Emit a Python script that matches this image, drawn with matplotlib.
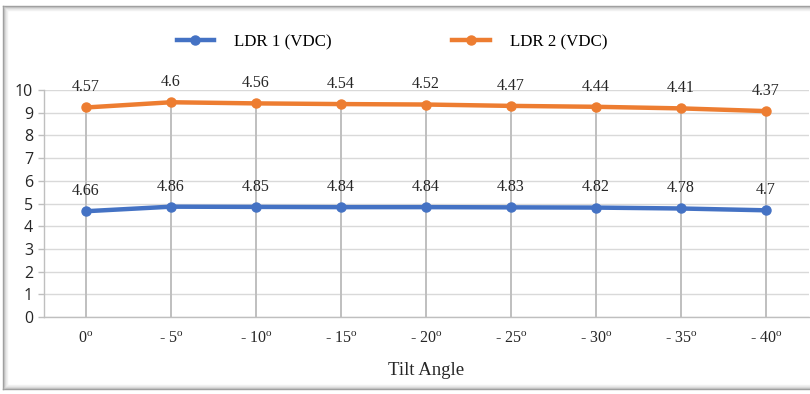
import matplotlib
matplotlib.use("Agg")
import matplotlib.pyplot as plt
from matplotlib.lines import Line2D
import numpy as np

# Tilt angle categories and voltage readings
angles = ["0", "- 5", "- 10", "- 15", "- 20", "- 25", "- 30", "- 35", "- 40"]
ldr1 = [4.66, 4.86, 4.85, 4.84, 4.84, 4.83, 4.82, 4.78, 4.70]
ldr2 = [4.57, 4.60, 4.56, 4.54, 4.52, 4.47, 4.44, 4.41, 4.37]
series_names = ["LDR 1 (VDC)", "LDR 2 (VDC)"]
y_ticks = list(range(0, 11))
x_title = "Tilt Angle"

BLUE = "#4472C4"
ORANGE = "#ED7D31"
SERIF = "Liberation Serif"

plt.rcParams["mathtext.fontset"] = "custom"
plt.rcParams["mathtext.rm"] = SERIF
plt.rcParams["mathtext.it"] = SERIF + ":italic"

W, H = 810, 394
fig = plt.figure(figsize=(W / 100, H / 100), dpi=100)
fig.patch.set_facecolor("white")

# plot area in pixel coordinates
left_px, right_px = 43.5, 808.5
y0_px, y10_px = 317, 90
ax = fig.add_axes([left_px / W, 1 - y0_px / H,
                   (right_px - left_px) / W, (y0_px - y10_px) / H])

x = np.arange(len(angles))
stacked = [a + b for a, b in zip(ldr1, ldr2)]

ax.set_xlim(-0.5, len(angles) - 0.5)
ax.set_ylim(0, 10)

# horizontal gridlines
ax.set_yticks(y_ticks)
ax.yaxis.grid(True, color="#d9d9d9", linewidth=1.0)
ax.set_axisbelow(True)

# drop lines from the upper series to the category axis
ax.vlines(x, 0, stacked, colors="#bfbfbf", linewidth=1.4, zorder=1.5)

# stacked line series
ax.plot(x, ldr1, color=BLUE, linewidth=3.2, marker="o", markersize=6.5,
        solid_capstyle="round", zorder=3, clip_on=False)
ax.plot(x, stacked, color=ORANGE, linewidth=3.2, marker="o", markersize=6.5,
        solid_capstyle="round", zorder=3, clip_on=False)

# data labels
for xi, v, top in zip(x, ldr1, ldr1):
    ax.annotate(f"{v:g}", (xi, top), xytext=(0, 14.5), textcoords="offset points",
                ha="center", va="center", fontsize=11.5, family=SERIF,
                color="#262626", annotation_clip=False)
for xi, v, top in zip(x, ldr2, stacked):
    ax.annotate(f"{v:g}", (xi, top), xytext=(0, 14.5), textcoords="offset points",
                ha="center", va="center", fontsize=11.5, family=SERIF,
                color="#262626", annotation_clip=False)

# axes styling
for side in ("top", "right"):
    ax.spines[side].set_visible(False)
ax.spines["left"].set_color("#bfbfbf")
ax.spines["bottom"].set_color("#bfbfbf")
ax.spines["left"].set_linewidth(1.0)
ax.spines["bottom"].set_linewidth(1.0)

ax.tick_params(axis="y", length=4.5, width=1.0, color="#bfbfbf", pad=3,
               labelsize=11.5, labelcolor="#262626")
for lbl in ax.get_yticklabels():
    lbl.set_family("Open Sans")

ax.set_xticks(x)
ax.set_xticklabels([f"{a}$^{{\\mathrm{{o}}}}$" for a in angles],
                   family=SERIF, fontsize=11.5, color="#262626")
ax.tick_params(axis="x", length=0, pad=10)

ax.set_xlabel(x_title, family=SERIF, fontsize=13.5, color="#262626", labelpad=11)

# legend
handles = [Line2D([], [], color=BLUE, linewidth=3.2, marker="o", markersize=6.5),
           Line2D([], [], color=ORANGE, linewidth=3.2, marker="o", markersize=6.5)]
fig.legend(handles, series_names, loc="center", bbox_to_anchor=(0.484, 1 - 42 / H),
           ncol=2, frameon=False, prop={"family": SERIF, "size": 12.2},
           handlelength=2.2, columnspacing=7.1, handletextpad=1.2)

# chart frame with soft inner shadow
shades = ["#9a9a9a", "#bdbdbd", "#d6d6d6", "#e6e6e6", "#f1f1f1"]
for i, c in enumerate(shades):
    fig.add_artist(Line2D([(3 + i) / W, (3 + i) / W], [1 - (6 + i) / H, 1 - (389 - i) / H],
                          transform=fig.transFigure, color=c, linewidth=1.0))
    fig.add_artist(Line2D([(3 + i) / W, 1.0], [1 - (6 + i) / H, 1 - (6 + i) / H],
                          transform=fig.transFigure, color=c, linewidth=1.0))
    fig.add_artist(Line2D([(3 + i) / W, 1.0], [1 - (389 - i) / H, 1 - (389 - i) / H],
                          transform=fig.transFigure, color=c, linewidth=1.0))

fig.savefig("out.png", dpi=100, facecolor="white")
